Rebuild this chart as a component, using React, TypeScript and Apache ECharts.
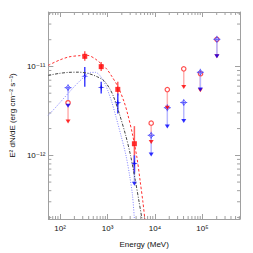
import React, { useEffect, useRef } from 'react';
import * as echarts from 'echarts';

// axis ranges (MeV, erg cm^-2 s^-1)
const xRange = [56.5, 6.2e5];
const yRange = [1.92e-13, 4.1e-11];
const xMinorTicks = [60, 70, 80, 90, 200, 300, 400, 500, 600, 700, 800, 900, 2000, 3000, 4000, 5000, 6000, 7000, 8000, 9000, 20000, 30000, 40000, 50000, 60000, 70000, 80000, 90000, 200000, 300000, 400000, 500000, 600000];
const yMinorTicks = [2e-13, 3e-13, 4e-13, 5e-13, 6e-13, 7e-13, 8e-13, 9e-13, 2e-12, 3e-12, 4e-12, 5e-12, 6e-12, 7e-12, 8e-12, 9e-12, 2e-11, 3e-11, 4e-11];

// model curves
const redCurveE = [56, 97, 153, 243, 385, 557, 735, 968, 1219, 1660, 2218, 2667, 3311, 4169, 4853, 5572, 6109];
const redCurveF = [1.03e-11, 1.18e-11, 1.28e-11, 1.32e-11, 1.33e-11, 1.21e-11, 1.07e-11, 9.3e-12, 7.8e-12, 5.9e-12, 4.04e-12, 2.89e-12, 1.78e-12, 9.4e-13, 5.2e-13, 2.97e-13, 1.92e-13];
const blackCurveE = [56, 97, 153, 243, 385, 611, 843, 1112, 1337, 1762, 2432, 3062, 3855, 4634, 5321];
const blackCurveF = [7.94e-12, 8.36e-12, 8.58e-12, 8.62e-12, 8.36e-12, 7.64e-12, 6.9e-12, 5.62e-12, 4.58e-12, 2.97e-12, 1.65e-12, 9.9e-13, 5.2e-13, 2.97e-13, 1.92e-13];
const blueCurveE = [56, 77, 106, 153, 222, 331, 443, 557, 670, 843, 1014, 1219, 1535, 1932, 2432, 2924, 3357, 3681];
const blueCurveF = [2.82e-12, 3.37e-12, 4.08e-12, 5.08e-12, 6.31e-12, 7.74e-12, 8.58e-12, 8.58e-12, 8.05e-12, 6.73e-12, 5.34e-12, 4.04e-12, 2.61e-12, 1.65e-12, 1.01e-12, 5.9e-13, 3.55e-13, 1.92e-13];

// filled data points with error bars
const redE = [331, 735, 1644, 3680];
const redF = [1.30e-11, 9.95e-12, 5.52e-12, 1.35e-12];
const redLo = [1.16e-11, 8.9e-12, 4.70e-12, 6.5e-13];
const redHi = [1.48e-11, 1.12e-11, 6.73e-12, 2.13e-12];
const blueE = [331, 735, 1644, 3680];
const blueF = [7.78e-12, 5.81e-12, 3.90e-12, 8.1e-13];
const blueLo = [5.91e-12, 4.95e-12, 2.96e-12, 6.2e-13];
const blueHi = [9.87e-12, 6.73e-12, 4.95e-12, 1.0e-12];

// open points and upper limits
const openE = [147, 8320, 18200, 40400, 90400, 202000];
const redOpenF = [3.90e-12, 2.30e-12, 5.49e-12, 9.4e-12, 8.47e-12, 2.02e-11];
const redUlF = [2.40e-12, 1.41e-12, 3.43e-12, 5.88e-12, 5.39e-12, 1.30e-11];
const blueOpenF = [5.77e-12, 1.68e-12, 3.43e-12, 3.93e-12, 8.6e-12, 2.02e-11];
const blueLimitE = [147, 3680, 8320, 18200, 40400, 90400, 202000];
const blueLimitFrom = [5.77e-12, 8.1e-13, 1.68e-12, 3.43e-12, 3.93e-12, 8.6e-12, 2.02e-11];
const blueLimitF = [3.61e-12, 4.8e-13, 1.02e-12, 2.11e-12, 2.44e-12, 5.5e-12, 1.30e-11];

const SUP: Record<string, string> = { '0': '⁰', '1': '¹', '2': '²', '3': '³', '4': '⁴', '5': '⁵', '6': '⁶', '7': '⁷', '8': '⁸', '9': '⁹', '-': '⁻' };
const powLabel = (v: number) => {
  const e = Math.round(Math.log10(v));
  return '10' + String(e).split('').map((c) => SUP[c]).join('');
};

const FONT = 'Liberation Sans, DejaVu Sans, sans-serif';
const AXC = '#a0a0a0';

const segSeries = (data: number[][], color: string, width: number) => ({
  type: 'custom',
  data,
  renderItem: (params: any, api: any) => {
    const p1 = api.coord([api.value(0), api.value(1)]);
    const p2 = api.coord([api.value(0), api.value(2)]);
    return { type: 'line', shape: { x1: p1[0], y1: p1[1], x2: p2[0], y2: p2[1] }, style: { stroke: color, lineWidth: width } };
  },
});

const axisBase = {
  type: 'log',
  logBase: 10,
  axisLine: { show: true, lineStyle: { color: AXC, width: 1 } },
  axisTick: { show: true, inside: true, length: 5, lineStyle: { color: AXC } },
  splitLine: { show: false },
};

export default function App() {
  const ref = useRef<HTMLDivElement>(null);
  useEffect(() => {
    const chart = echarts.init(ref.current!, undefined, { renderer: 'svg' });
    const zip = (a: number[], b: number[]) => a.map((v, i) => [v, b[i]]);
    chart.setOption({
      animation: false,
      backgroundColor: '#fff',
      grid: { left: 38, right: 13, top: 12, bottom: 31 },
      xAxis: [
        {
          ...axisBase, min: xRange[0], max: xRange[1], position: 'bottom',
          axisLabel: { formatter: powLabel, fontSize: 8, margin: 5, color: '#111', fontFamily: FONT, showMinLabel: false, showMaxLabel: false },
          name: 'Energy (MeV)', nameLocation: 'middle', nameGap: 21,
          nameTextStyle: { fontSize: 8, color: '#111', fontFamily: FONT },
        },
        { ...axisBase, min: xRange[0], max: xRange[1], position: 'top', axisLabel: { show: false } },
      ],
      yAxis: [
        {
          ...axisBase, min: yRange[0], max: yRange[1], position: 'left',
          axisLabel: { formatter: powLabel, fontSize: 8, margin: 3, color: '#111', fontFamily: FONT, showMinLabel: false, showMaxLabel: false },
          name: 'E² dN/dE (erg cm⁻² s⁻¹)', nameLocation: 'middle', nameGap: 21,
          nameTextStyle: { fontSize: 8, color: '#111', fontFamily: FONT },
        },
        { ...axisBase, min: yRange[0], max: yRange[1], position: 'right', axisLabel: { show: false } },
      ],
      series: [
        {
          type: 'custom', data: xMinorTicks.map((v) => [v, yRange[0]]), silent: true,
          renderItem: (params: any, api: any) => {
            const cs = params.coordSys;
            const x = api.coord([api.value(0), yRange[0]])[0];
            const b = cs.y + cs.height;
            return {
              type: 'group', children: [
                { type: 'line', shape: { x1: x, y1: b, x2: x, y2: b - 3 }, style: { stroke: AXC, lineWidth: 1 } },
                { type: 'line', shape: { x1: x, y1: cs.y, x2: x, y2: cs.y + 3 }, style: { stroke: AXC, lineWidth: 1 } },
              ],
            };
          },
        },
        {
          type: 'custom', data: yMinorTicks.map((v) => [xRange[0], v]), silent: true,
          renderItem: (params: any, api: any) => {
            const cs = params.coordSys;
            const y = api.coord([xRange[0], api.value(1)])[1];
            const r = cs.x + cs.width;
            return {
              type: 'group', children: [
                { type: 'line', shape: { x1: cs.x, y1: y, x2: cs.x + 3, y2: y }, style: { stroke: AXC, lineWidth: 1 } },
                { type: 'line', shape: { x1: r, y1: y, x2: r - 3, y2: y }, style: { stroke: AXC, lineWidth: 1 } },
              ],
            };
          },
        },
        { type: 'line', data: zip(blueCurveE, blueCurveF), showSymbol: false, smooth: 0.3, lineStyle: { color: '#8080ff', width: 1, type: [1, 1.5] } },
        { type: 'line', data: zip(blackCurveE, blackCurveF), showSymbol: false, smooth: 0.3, lineStyle: { color: '#444', width: 1, type: [3, 1.5, 1, 1.5] } },
        { type: 'line', data: zip(redCurveE, redCurveF), showSymbol: false, smooth: 0.3, lineStyle: { color: '#ff3030', width: 1, type: [2.5, 2] } },
        segSeries(openE.map((e, i) => [e, redOpenF[i], redUlF[i]]), '#ffb0b0', 1.5),
        segSeries(blueLimitE.map((e, i) => [e, blueLimitFrom[i], blueLimitF[i]]), '#b8b8ff', 1.5),
        segSeries(redE.map((e, i) => [e, redLo[i], redHi[i]]), '#ff6060', 1.5),
        segSeries(blueE.map((e, i) => [e, blueLo[i], blueHi[i]]), '#4040ff', 1.5),
        {
          type: 'custom', data: zip(openE, redOpenF),
          renderItem: (params: any, api: any) => {
            const p = api.coord([api.value(0), api.value(1)]);
            return { type: 'circle', shape: { cx: p[0], cy: p[1], r: 2.2 }, style: { fill: '#fff', stroke: '#ff5050', lineWidth: 1.2 } };
          },
        },
        { type: 'scatter', data: zip(openE, redUlF), symbol: 'triangle', symbolRotate: 180, symbolSize: [5, 4], itemStyle: { color: '#ff0000' } },
        {
          type: 'custom', data: zip(openE, blueOpenF),
          renderItem: (params: any, api: any) => {
            const p = api.coord([api.value(0), api.value(1)]);
            const [x, y] = p;
            const st = { stroke: 'rgba(70,70,255,0.8)', lineWidth: 1, fill: 'none' };
            return {
              type: 'group', children: [
                { type: 'polygon', shape: { points: [[x - 2.5, y], [x, y - 2.5], [x + 2.5, y], [x, y + 2.5]] }, style: st },
                { type: 'line', shape: { x1: x - 3.5, y1: y, x2: x + 3.5, y2: y }, style: st },
                { type: 'line', shape: { x1: x, y1: y - 3.5, x2: x, y2: y + 3.5 }, style: st },
              ],
            };
          },
        },
        { type: 'scatter', data: zip(blueLimitE, blueLimitF), symbol: 'triangle', symbolRotate: 180, symbolSize: [5, 4], itemStyle: { color: '#0000ff' } },
        { type: 'scatter', data: zip(redE, redF), symbol: 'rect', symbolSize: 5, itemStyle: { color: '#ff0000' } },
        { type: 'scatter', data: zip(blueE, blueF), symbol: 'path://M5,0L6,4L10,5L6,6L5,10L4,6L0,5L4,4Z', symbolSize: 7, itemStyle: { color: '#0000ee' } },
      ],
    });
    return () => chart.dispose();
  }, []);
  return <div ref={ref} style={{ position: 'fixed', left: 0, top: 0, width: 253, height: 253, background: '#fff' }} />;
}
